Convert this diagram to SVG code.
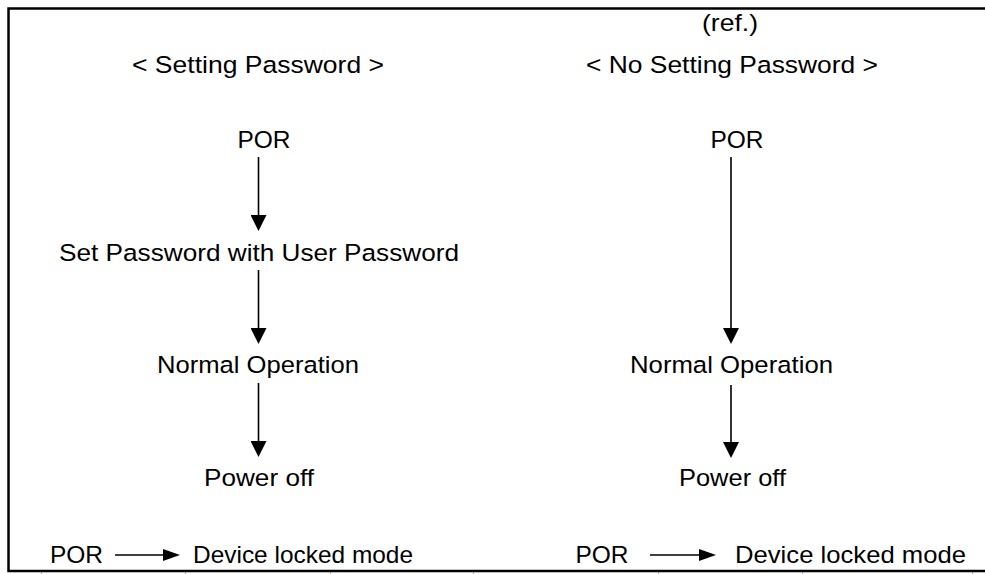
<svg xmlns="http://www.w3.org/2000/svg" width="985" height="574" viewBox="0 0 985 574">
<style>
text{font-family:"Liberation Sans",Arial,sans-serif;font-size:24.5px;fill:#000;text-anchor:middle}
.conn{stroke:#000;stroke-width:1.6;fill:none}
.frame{stroke:#000;stroke-width:2.5;fill:none}
.tick{stroke:#999;stroke-width:1}
</style>
<defs>
<marker id="ah" markerUnits="userSpaceOnUse" markerWidth="16" markerHeight="16" refX="0" refY="8" orient="auto" viewBox="0 0 16 16">
<path d="M0,0 L16,8 L0,16 z" fill="#000"/>
</marker>
<marker id="ahs" markerUnits="userSpaceOnUse" markerWidth="17" markerHeight="12" refX="0" refY="6" orient="auto" viewBox="0 0 17 12">
<path d="M0,0 L17,6 L0,12 z" fill="#000"/>
</marker>
</defs>
<rect width="985" height="574" fill="#fff"/>
<g id="frame">
<path class="frame" d="M985,8.5 H8.5 V571 H985"/>
<path class="tick" d="M41.5,572 V574 M185.5,572 V574 M330.5,572 V574 M473.5,572 V574 M658.5,572 V574 M802.5,572 V574 M972.5,572 V574"/>
</g>
<g id="left-title"><text x="258" y="73" textLength="252" lengthAdjust="spacingAndGlyphs">&lt; Setting Password &gt;</text></g>
<g id="right-ref"><text x="730" y="31" textLength="56" lengthAdjust="spacingAndGlyphs">(ref.)</text></g>
<g id="right-title"><text x="732" y="73" textLength="292" lengthAdjust="spacingAndGlyphs">&lt; No Setting Password &gt;</text></g>
<g id="left-por"><text x="264" y="148">POR</text></g>
<g id="left-setpw"><text x="259" y="261" textLength="400" lengthAdjust="spacingAndGlyphs">Set Password with User Password</text></g>
<g id="left-normal"><text x="258" y="373" textLength="202" lengthAdjust="spacingAndGlyphs">Normal Operation</text></g>
<g id="left-poweroff"><text x="259" y="486" textLength="110" lengthAdjust="spacingAndGlyphs">Power off</text></g>
<g id="right-por"><text x="737" y="148">POR</text></g>
<g id="right-normal"><text x="731.5" y="373" textLength="203" lengthAdjust="spacingAndGlyphs">Normal Operation</text></g>
<g id="right-poweroff"><text x="732.5" y="486" textLength="107" lengthAdjust="spacingAndGlyphs">Power off</text></g>
<g id="left-legend-por"><text x="76.5" y="563">POR</text></g>
<g id="left-legend-locked"><text x="303" y="563" textLength="220" lengthAdjust="spacingAndGlyphs">Device locked mode</text></g>
<g id="right-legend-por"><text x="602" y="563">POR</text></g>
<g id="right-legend-locked"><text x="850.5" y="563" textLength="231" lengthAdjust="spacingAndGlyphs">Device locked mode</text></g>
<g id="connectors">
<line class="conn" x1="258.5" y1="157" x2="258.5" y2="215" marker-end="url(#ah)"/>
<line class="conn" x1="258.5" y1="270" x2="258.5" y2="328" marker-end="url(#ah)"/>
<line class="conn" x1="258.5" y1="383" x2="258.5" y2="441" marker-end="url(#ah)"/>
<line class="conn" x1="731" y1="157" x2="731" y2="328" marker-end="url(#ah)"/>
<line class="conn" x1="731" y1="385" x2="731" y2="442" marker-end="url(#ah)"/>
<line class="conn" x1="115" y1="555" x2="163" y2="555" marker-end="url(#ahs)"/>
<line class="conn" x1="650" y1="555" x2="699" y2="555" marker-end="url(#ahs)"/>
</g>
</svg>
